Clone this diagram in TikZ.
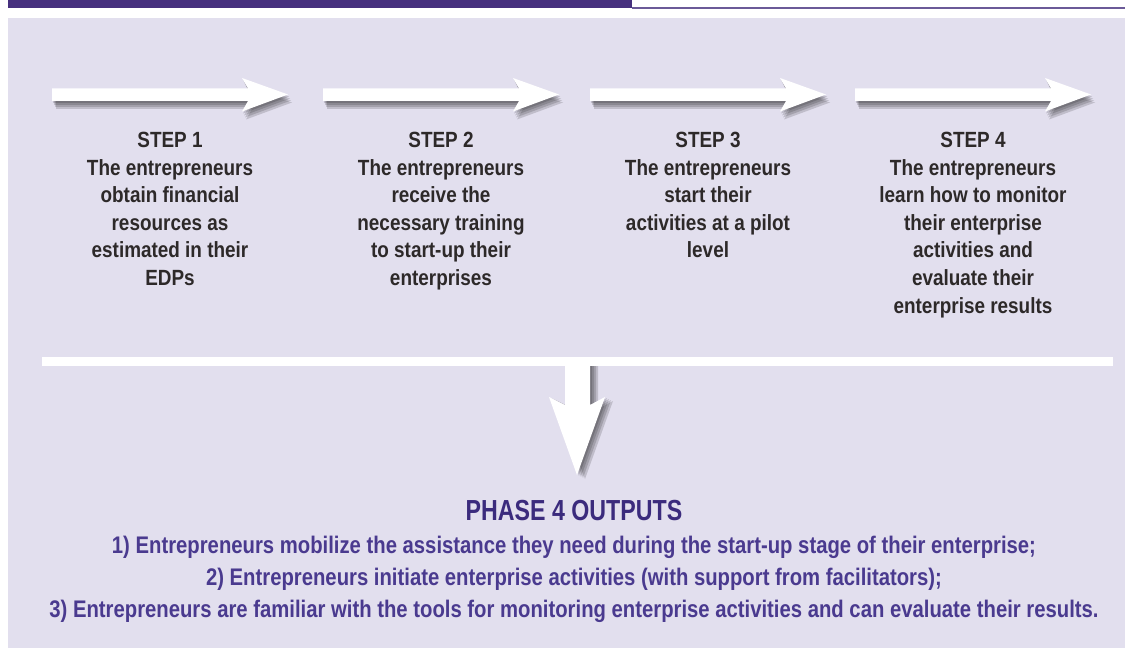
\documentclass[tikz,border=0pt]{standalone}
\usepackage{fontspec}
\usepackage{xcolor}
\setmainfont{Liberation Sans}
\newfontfamily\stepfont[FakeStretch=0.86]{Liberation Sans}
\newfontfamily\outfont[FakeStretch=0.845]{Liberation Sans}
\newfontfamily\phasefont[FakeStretch=0.8]{Liberation Sans}
\definecolor{panel}{HTML}{E2DFEE}
\definecolor{banner}{HTML}{46307E}
\definecolor{steptxt}{HTML}{2D2929}
\definecolor{outtxt}{HTML}{4A3A8F}
\definecolor{phasetxt}{HTML}{3B2B7D}

\tikzset{
	steptext/.style={anchor=north, inner sep=0, align=center, text=steptxt, font={\stepfont\bfseries\fontsize{22}{27.6}\selectfont}},
	phasetext/.style={anchor=base, inner sep=0, text=phasetxt, font={\phasefont\bfseries\fontsize{29}{34}\selectfont}},
	outtext/.style={anchor=base, inner sep=0, text=outtxt, font={\outfont\bfseries\fontsize{24}{30}\selectfont}},
	whitearrow/.style={draw=none, fill=white},
	arrowshade/.style={draw=none, fill=black, fill opacity=.15}
}

\begin{document}
\begin{tikzpicture}[x=1pt, y=-1pt]
				\useasboundingbox (0,0) rectangle (1125,655);
				% banner and panel
				\draw[draw=none, fill=banner] (8,0) rectangle (632,8.5);
				\draw[banner!80, line width=1.2pt] (632,8) -- (1125,8);
				\draw[draw=none, fill=panel] (8,18) rectangle (1125,648);
				% step arrows
				\foreach \x in {52,323,590,855} {
					\foreach \s in {2,4,6,8}
						\draw[arrowshade] (\x+\s/2,88.5+\s) -- ++(196,0) -- ++(-6,-10.5) -- ++(46,16.5) -- ++(-46,17) -- ++(6,-10.5) -- ++(-196,0) -- cycle;
					\draw[whitearrow] (\x,88.5) -- ++(196,0) -- ++(-6,-10.5) -- ++(46,16.5) -- ++(-46,17) -- ++(6,-10.5) -- ++(-196,0) -- cycle;
				}
				\node[steptext] (step1) at (170,132) {STEP 1\\The entrepreneurs\\obtain financial\\resources as\\estimated in their\\EDPs};
				\node[steptext] (step2) at (441,132) {STEP 2\\The entrepreneurs\\receive the\\necessary training\\to start-up their\\enterprises};
				\node[steptext] (step3) at (708,132) {STEP 3\\The entrepreneurs\\start their\\activities at a pilot\\level};
				\node[steptext] (step4) at (973,132) {STEP 4\\The entrepreneurs\\learn how to monitor\\their enterprise\\activities and\\evaluate their\\enterprise results};
				% bar and down arrow
				\foreach \s in {2,4,6,8}
					\draw[arrowshade] (565+\s,362+\s/2) -- (590+\s,362+\s/2) -- (590+\s,405+\s/2) -- (605+\s,397+\s/2) -- (577+\s,475+\s/2) -- (549+\s,397+\s/2) -- (565+\s,405+\s/2) -- cycle;
				\draw[draw=none, fill=white] (42,357) rectangle (1113,366);
				\draw[whitearrow] (565,362) -- (590,362) -- (590,405) -- (605,397) -- (577,475) -- (549,397) -- (565,405) -- cycle;
				% outputs
				\node[phasetext] (phase) at (574,520) {PHASE 4 OUTPUTS};
				\node[outtext] (out1) at (574,553) {1) Entrepreneurs mobilize the assistance they need during the start-up stage of their enterprise;};
				\node[outtext] (out2) at (574,585) {2) Entrepreneurs initiate enterprise activities (with support from facilitators);};
				\node[outtext] (out3) at (574,617) {3) Entrepreneurs are familiar with the tools for monitoring enterprise activities and can evaluate their results.};
			\end{tikzpicture}
\end{document}
